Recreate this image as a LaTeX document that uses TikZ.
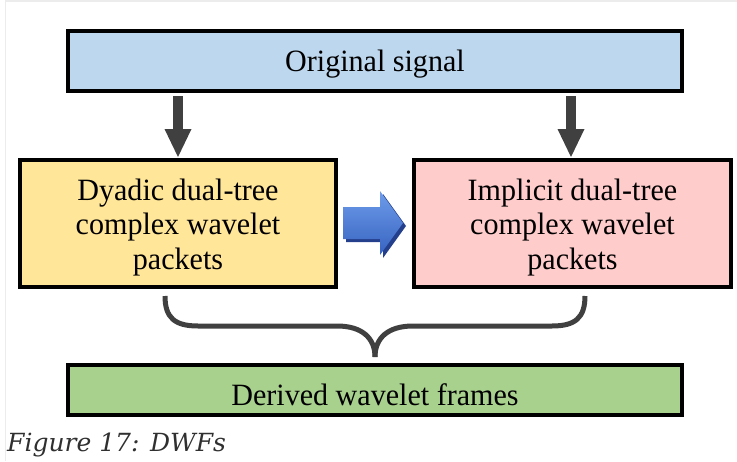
\documentclass[tikz,border=0pt]{standalone}
\usepackage{fontspec}
\setmainfont{Liberation Serif}[FakeStretch=0.97]
\newfontfamily\capfont{DejaVu Serif}
\usetikzlibrary{arrows.meta}
\definecolor{topblue}{HTML}{BDD7EE}
\definecolor{boxyellow}{HTML}{FFE699}
\definecolor{boxpink}{HTML}{FFCCCC}
\definecolor{boxgreen}{HTML}{A9D18E}
\definecolor{arrowgray}{HTML}{404040}
\definecolor{framegray}{HTML}{ECECEC}
\definecolor{captiongray}{HTML}{303030}
\definecolor{bluetop}{HTML}{6E9CEA}
\definecolor{bluebot}{HTML}{3763C0}
\definecolor{blueshadow}{HTML}{243F8C}
\begin{document}
\begin{tikzpicture}[x=1pt,y=-1pt,
  boxstyle/.style={draw=black, line width=3.5pt, inner sep=0pt},
  txt/.style={font=\fontsize{31}{34.5}\selectfont, align=center, inner sep=0pt},
  downarrow/.style={draw=arrowgray, line width=10.5pt,
    -{Triangle[length=28pt,width=27pt,line width=0pt]}},
  bracestyle/.style={draw=arrowgray, line width=5pt, line join=round}]
\useasboundingbox (0,0) rectangle (737,461);
% frame
\draw[framegray, line width=1.5pt] (5.5,461) -- (5.5,1) -- (737,1);
% boxes
\node[boxstyle, fill=topblue, minimum width=614pt, minimum height=60pt] (top) at (375,61) {};
\node[boxstyle, fill=boxyellow, minimum width=316pt, minimum height=127pt] (left) at (178,223.5) {};
\node[boxstyle, fill=boxpink, minimum width=317pt, minimum height=127pt] (right) at (572.5,223.5) {};
\node[boxstyle, fill=boxgreen, minimum width=614pt, minimum height=50pt] (bottom) at (375,390) {};
% texts
\node[txt, anchor=base] (toptext) at (top.center |- 0,71) {Original signal};
\node[txt] (lefttext) at (178,227.5) {Dyadic dual-tree\\complex wavelet\\packets};
\node[txt] (righttext) at (572.5,227.5) {Implicit dual-tree\\complex wavelet\\packets};
\node[txt, anchor=base] (bottomtext) at (bottom.center |- 0,405) {Derived wavelet frames};
% down arrows
\coordinate (a1s) at (178,96);
\coordinate (a1e) at (178,157);
\coordinate (a2s) at (571,96);
\coordinate (a2e) at (571,157);
\draw[downarrow] (a1s) -- (a1e);
\draw[downarrow] (a2s) -- (a2e);
% blue block arrow
\fill[blueshadow] (346,210) -- (383,210) -- (383,194) -- (406,226) -- (383,258) -- (383,242) -- (346,242) -- cycle;
\shade[top color=bluetop, bottom color=bluebot] (343,207) -- (380,207) -- (380,191) -- (403,223) -- (380,255) -- (380,239) -- (343,239) -- cycle;
% brace
\draw[bracestyle] (165,296) .. controls (165,318) and (175,326) .. (198,326) -- (337,326)
   .. controls (362,326) and (375,338) .. (375,357);
\draw[bracestyle] (585,296) .. controls (585,318) and (575,326) .. (552,326) -- (413,326)
   .. controls (388,326) and (375,338) .. (375,357);
% caption
\node[anchor=base west, inner sep=0pt, text=captiongray,
      font=\capfont\itshape\fontsize{25}{30}\selectfont] (caption) at (7,451) {Figure 17: DWFs};
\end{tikzpicture}
\end{document}
